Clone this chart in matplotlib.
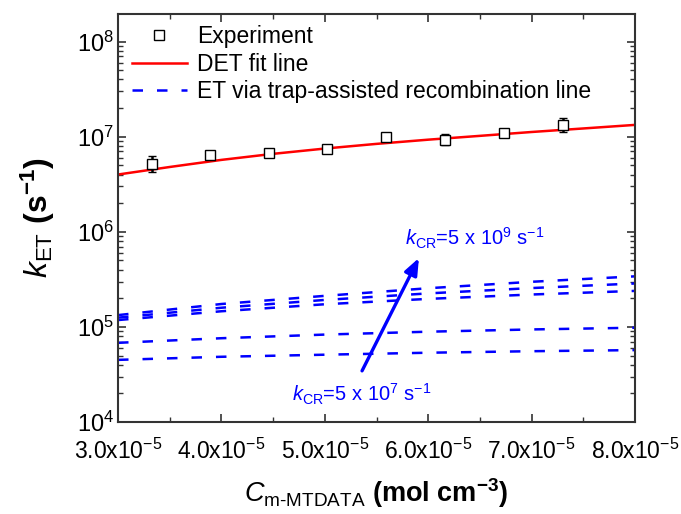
import numpy as np
import matplotlib
matplotlib.use("Agg")
import matplotlib.pyplot as plt
from matplotlib.lines import Line2D
from matplotlib.ticker import FixedLocator, FuncFormatter, LogLocator, NullFormatter

plt.rcParams['font.family'] = ['Liberation Sans', 'DejaVu Sans']
plt.rcParams['mathtext.fontset'] = 'custom'
plt.rcParams['mathtext.rm'] = 'Liberation Sans'
plt.rcParams['mathtext.it'] = 'Liberation Sans:italic'
plt.rcParams['mathtext.bf'] = 'Liberation Sans:bold'

# Experimental electron-transfer rates
conc_exp = [3.33e-5, 3.89e-5, 4.46e-5, 5.02e-5, 5.59e-5, 6.16e-5, 6.73e-5, 7.30e-5]
k_exp = [5.2e6, 6.35e6, 6.7e6, 7.35e6, 9.9e6, 9.3e6, 1.1e7, 1.33e7]
k_err_low = [0.9e6, 0.3e6, 0.4e6, 0.4e6, 0.4e6, 1.1e6, 0.5e6, 2.2e6]
k_err_high = [1.0e6, 0.3e6, 0.4e6, 0.4e6, 0.4e6, 1.4e6, 0.5e6, 2.3e6]

# DET fit line
conc_fit = [3.0e-5, 3.5e-5, 4.0e-5, 4.5e-5, 5.0e-5, 5.5e-5, 6.0e-5, 6.5e-5, 7.0e-5, 7.5e-5, 8.0e-5]
k_det = [4.0e6, 4.8e6, 5.7e6, 6.6e6, 7.5e6, 8.4e6, 9.3e6, 1.02e7, 1.12e7, 1.22e7, 1.33e7]

# ET via trap-assisted recombination, various k_CR
conc_tr = [3.0e-5, 4.0e-5, 5.0e-5, 6.0e-5, 7.0e-5, 8.0e-5]
k_tr_1 = [4.5e4, 4.85e4, 5.1e4, 5.35e4, 5.55e4, 5.7e4]
k_tr_2 = [6.8e4, 7.6e4, 8.3e4, 8.9e4, 9.4e4, 9.8e4]
k_tr_3 = [1.18e5, 1.46e5, 1.73e5, 1.97e5, 2.19e5, 2.39e5]
k_tr_4 = [1.25e5, 1.59e5, 1.92e5, 2.25e5, 2.56e5, 2.86e5]
k_tr_5 = [1.33e5, 1.74e5, 2.12e5, 2.55e5, 2.98e5, 3.40e5]

xticks = [3.0e-5, 4.0e-5, 5.0e-5, 6.0e-5, 7.0e-5, 8.0e-5]
xtick_labels = [r'3.0x10$^{-5}$', r'4.0x10$^{-5}$', r'5.0x10$^{-5}$',
                r'6.0x10$^{-5}$', r'7.0x10$^{-5}$', r'8.0x10$^{-5}$']

fig = plt.figure(figsize=(6.81, 5.14), dpi=100)
ax = fig.add_axes([0.1733, 0.179, 0.7592, 0.7938])

blue = '#0000ff'
for k_tr in [k_tr_1, k_tr_2, k_tr_3, k_tr_4, k_tr_5]:
    ax.plot(conc_tr, k_tr, color=blue, lw=1.8, dashes=(4.2, 5.6))

ax.plot(conc_fit, k_det, color='#ff0000', lw=1.8)

ax.errorbar(conc_exp, k_exp, yerr=[k_err_low, k_err_high], fmt='s', ms=6.5,
            mfc='white', mec='black', mew=1.0, ecolor='black', elinewidth=1.8,
            capsize=3, capthick=1.8, zorder=5)

ax.set_yscale('log')
ax.set_xlim(3.0e-5, 8.0e-5)
ax.set_ylim(1e4, 1.95e8)

ax.xaxis.set_major_locator(FixedLocator(xticks))
ax.set_xticklabels(xtick_labels)
ax.xaxis.set_minor_locator(FixedLocator([3.5e-5, 4.5e-5, 5.5e-5, 6.5e-5, 7.5e-5]))
ax.yaxis.set_major_locator(LogLocator(base=10, numticks=10))
ax.yaxis.set_major_formatter(FuncFormatter(lambda v, p: r'10$^{%d}$' % int(round(np.log10(v)))))
ax.yaxis.set_minor_locator(LogLocator(base=10, subs=np.arange(2, 10), numticks=20))
ax.yaxis.set_minor_formatter(NullFormatter())

ax.tick_params(which='both', direction='in', top=True, right=True, colors='#333333',
               labelcolor='black')
ax.tick_params(which='major', length=6, width=1.2, labelsize=17, pad=3)
ax.tick_params(which='minor', length=3.5, width=1.0)
ax.tick_params(axis='x', which='major', labelsize=16.5, pad=12)
for s in ax.spines.values():
    s.set_linewidth(1.5)
    s.set_color('#333333')

ax.set_xlabel(r'$\mathit{C}_{\mathrm{m\text{-}MTDATA}}$ (mol cm$^{\mathbf{-3}}$)',
              fontsize=19.5, fontweight='bold', labelpad=9)
ax.set_ylabel(r'$\mathit{k}_{\mathrm{ET}}$ (s$^{\mathbf{-1}}$)',
              fontsize=23, fontweight='bold', labelpad=14)

handles = [
    Line2D([], [], ls='none', marker='s', ms=6.5, mfc='white', mec='black', mew=1.0),
    Line2D([], [], color='#ff0000', lw=1.8),
    Line2D([], [], color=blue, lw=1.8, dashes=(4.2, 5.6)),
]
labels = ['Experiment', 'DET fit line', 'ET via trap-assisted recombination line']
ax.legend(handles, labels, loc='upper left', frameon=False, fontsize=16.5,
          handlelength=2.4, handletextpad=0.45, borderaxespad=0.2,
          labelspacing=0.2, bbox_to_anchor=(0.0, 1.006))

ax.annotate('', xy=(5.91e-5, 5.3e5), xytext=(5.36e-5, 3.45e4),
            arrowprops=dict(arrowstyle='-|>,head_length=1.0,head_width=0.4',
                            color=blue, lw=2.4, shrinkA=0, shrinkB=0))

ax.text(5.78e-5, 8.6e5, r'$\mathit{k}_{\mathrm{CR}}$=5 x 10$^{9}$ s$^{-1}$',
        color=blue, fontsize=14.5, ha='left', va='center')
ax.text(4.68e-5, 1.95e4, r'$\mathit{k}_{\mathrm{CR}}$=5 x 10$^{7}$ s$^{-1}$',
        color=blue, fontsize=14.5, ha='left', va='center')

fig.savefig('out.png', dpi=100)
